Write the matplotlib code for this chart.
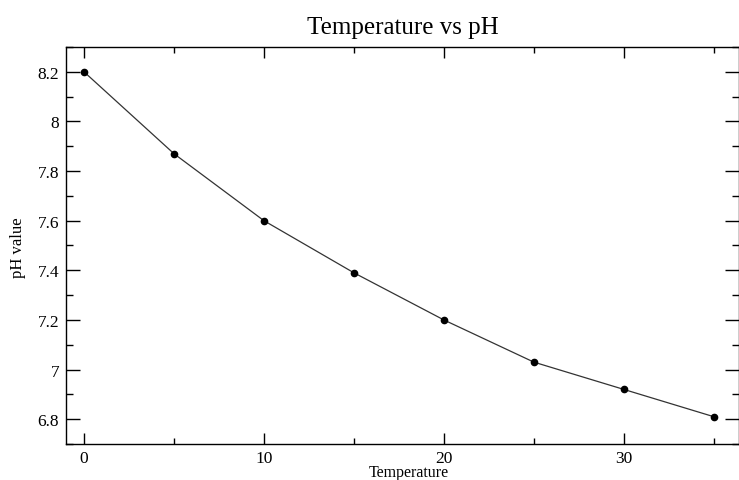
import numpy as np
import matplotlib.pyplot as plt

# temperature vs pH readings
temperature = [0, 5, 10, 15, 20, 25, 30, 35]
ph_value = [8.2, 7.87, 7.6, 7.39, 7.2, 7.03, 6.92, 6.81]

plt.rcParams['font.family'] = ['Liberation Serif', 'DejaVu Serif']

fig = plt.figure(figsize=(7.39, 4.81), dpi=100)
ax = fig.add_axes([66 / 739, 36 / 481, 673 / 739, 397 / 481])

ax.plot(temperature, ph_value, color='#333333', linewidth=0.9,
        marker='o', markersize=4.5, markerfacecolor='black', markeredgecolor='black')

ax.set_xlim(-1, 36.4)
ax.set_ylim(6.7, 8.3)
ax.set_xticks([0, 10, 20, 30])
ax.set_xticks([5, 15, 25, 35], minor=True)
ax.set_yticks(np.arange(6.8, 8.21, 0.2))
ax.set_yticks(np.arange(6.7, 8.31, 0.2), minor=True)
ax.set_yticklabels(['6.8', '7', '7.2', '7.4', '7.6', '7.8', '8', '8.2'])

ax.tick_params(axis='both', which='both', direction='in', top=True, right=True,
               labelsize=12.5, width=1, color='black')
ax.tick_params(axis='y', which='major', length=10, pad=5)
ax.tick_params(axis='y', which='minor', length=5)
ax.tick_params(axis='x', which='major', length=8, pad=4)
ax.tick_params(axis='x', which='minor', length=4)
for s in ax.spines.values():
    s.set_linewidth(1)

ax.set_title("Temperature vs pH", fontsize=18, pad=10)
ax.set_xlabel("Temperature", fontsize=11.5)
ax.xaxis.set_label_coords(0.51, -0.05)
ax.set_ylabel("pH value", fontsize=12)
ax.yaxis.set_label_coords(-0.06, 0.496)

plt.savefig("out.png", dpi=100)
